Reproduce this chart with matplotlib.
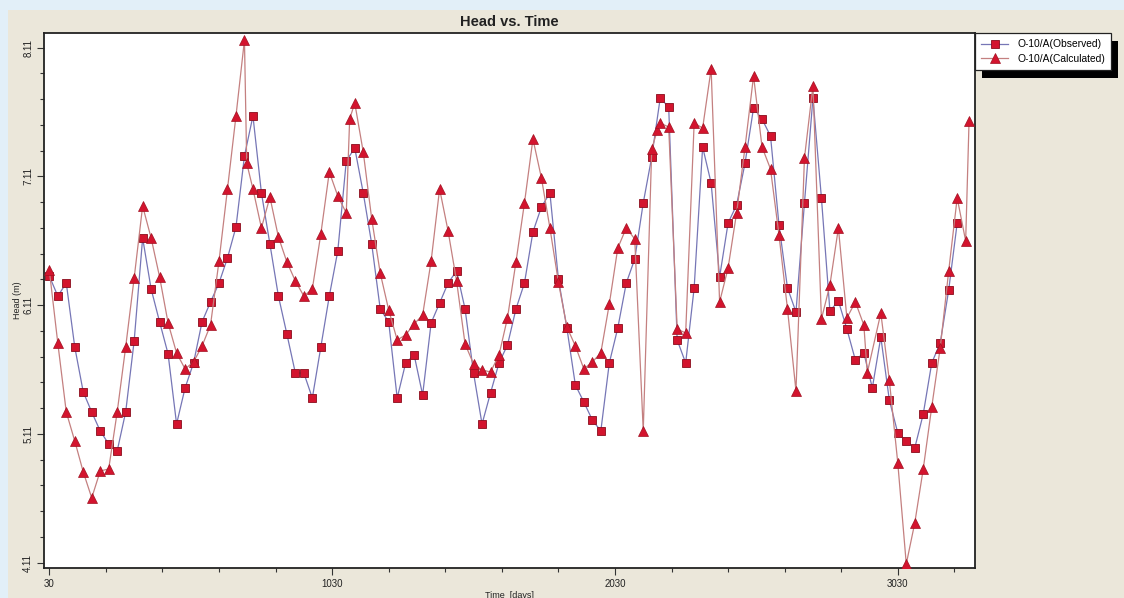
import matplotlib
matplotlib.use('Agg')
import matplotlib.pyplot as plt
from matplotlib.patches import Rectangle
from matplotlib.ticker import FixedLocator, FixedFormatter
import numpy as np

plt.rcParams['font.family'] = ['Liberation Sans', 'DejaVu Sans']

# ---------------- data ----------------
obs_days = [30, 60, 90, 120, 150, 180, 210, 240, 270, 300,
            330, 360, 390, 420, 450, 480, 510, 540, 570, 600,
            630, 660, 690, 720, 750, 780, 810, 840, 870, 900,
            930, 960, 990, 1020, 1050, 1080, 1110, 1140, 1170, 1200,
            1230, 1260, 1290, 1320, 1350, 1380, 1410, 1440, 1470, 1500,
            1530, 1560, 1590, 1620, 1650, 1680, 1710, 1740, 1770, 1800,
            1830, 1860, 1890, 1920, 1950, 1980, 2010, 2040, 2070, 2100,
            2130, 2160, 2190, 2220, 2250, 2280, 2310, 2340, 2370, 2400,
            2430, 2460, 2490, 2520, 2550, 2580, 2610, 2640, 2670, 2700,
            2730, 2760, 2790, 2820, 2850, 2880, 2910, 2940, 2970, 3000,
            3030, 3060, 3090, 3120, 3150, 3180, 3210, 3240]
obs_head = [6.337, 6.181, 6.282, 5.785, 5.436, 5.280, 5.133, 5.032, 4.978, 5.280,
            5.832, 6.632, 6.236, 5.980, 5.731, 5.187, 5.467, 5.661, 5.980, 6.135,
            6.282, 6.477, 6.717, 7.269, 7.580, 6.982, 6.585, 6.181, 5.886, 5.583,
            5.583, 5.389, 5.785, 6.181, 6.531, 7.230, 7.331, 6.982, 6.585, 6.081,
            5.980, 5.389, 5.661, 5.723, 5.413, 5.972, 6.127, 6.282, 6.376, 6.081,
            5.583, 5.187, 5.428, 5.661, 5.801, 6.081, 6.282, 6.679, 6.873, 6.982,
            6.314, 5.933, 5.490, 5.358, 5.218, 5.133, 5.661, 5.933, 6.282, 6.469,
            6.904, 7.261, 7.719, 7.649, 5.840, 5.661, 6.244, 7.339, 7.059, 6.329,
            6.748, 6.888, 7.214, 7.642, 7.556, 7.424, 6.733, 6.244, 6.057, 6.904,
            7.719, 6.943, 6.065, 6.143, 5.925, 5.684, 5.739, 5.467, 5.863, 5.374,
            5.117, 5.055, 5.001, 5.265, 5.661, 5.816, 6.228, 6.748]

calc_days = [30, 60, 90, 120, 150, 180, 210, 240, 270, 300,
             330, 360, 390, 420, 450, 480, 510, 540, 570, 600,
             630, 660, 690, 720, 728, 750, 780, 810, 840, 870,
             900, 930, 960, 990, 1020, 1050, 1080, 1092, 1110, 1140,
             1170, 1200, 1230, 1260, 1290, 1320, 1350, 1380, 1410, 1440,
             1470, 1500, 1530, 1560, 1590, 1620, 1650, 1680, 1710, 1740,
             1770, 1800, 1830, 1860, 1890, 1920, 1950, 1980, 2010, 2040,
             2070, 2100, 2130, 2160, 2180, 2190, 2220, 2250, 2280, 2310,
             2340, 2370, 2400, 2430, 2460, 2490, 2520, 2550, 2580, 2610,
             2640, 2670, 2700, 2730, 2760, 2790, 2820, 2850, 2880, 2910,
             2922, 2970, 3000, 3030, 3060, 3090, 3120, 3150, 3180, 3210,
             3240, 3270, 3282]
calc_head = [6.383, 5.816, 5.280, 5.055, 4.815, 4.613, 4.822, 4.838, 5.280, 5.785,
             6.321, 6.880, 6.632, 6.329, 5.972, 5.739, 5.615, 5.669, 5.793, 5.956,
             6.453, 7.013, 7.580, 8.170, 7.214, 7.013, 6.710, 6.950, 6.640, 6.446,
             6.298, 6.181, 6.236, 6.663, 7.145, 6.958, 6.826, 7.556, 7.681, 7.300,
             6.780, 6.360, 6.073, 5.840, 5.879, 5.964, 6.034, 6.453, 7.013, 6.686,
             6.298, 5.809, 5.653, 5.607, 5.591, 5.723, 6.011, 6.446, 6.904, 7.401,
             7.098, 6.710, 6.290, 5.941, 5.793, 5.615, 5.669, 5.739, 6.119, 6.554,
             6.710, 6.624, 5.133, 7.323, 7.471, 7.525, 7.494, 5.925, 5.894, 7.525,
             7.486, 7.945, 6.135, 6.399, 6.826, 7.339, 7.890, 7.339, 7.168, 6.655,
             6.081, 5.444, 7.253, 7.813, 6.003, 6.267, 6.710, 6.011, 6.135, 5.956,
             5.583, 6.049, 5.529, 4.884, 4.100, 4.418, 4.838, 5.319, 5.778, 6.376,
             6.943, 6.609, 7.541]

x_major = [30, 1030, 2030, 3030]
x_minor = [230, 430, 630, 830, 1230, 1430, 1630, 1830, 2230, 2430, 2630, 2830, 3230]
y_major = [4.11, 5.11, 6.11, 7.11, 8.11]
y_labels = ['4.11', '5.11', '6.11', '7.11', '8.11']
y_minor = [4.31, 4.51, 4.71, 4.91, 5.31, 5.51, 5.71, 5.91, 6.31, 6.51, 6.71, 6.91,
           7.31, 7.51, 7.71, 7.91]

# ---------------- figure ----------------
W, H = 1124, 598
fig = plt.figure(figsize=(W / 100, H / 100), dpi=100)
fig.patch.set_facecolor('#e2eff8')
fig.patches.append(Rectangle((8 / W, 0), 1 - 8 / W, 1 - 10 / H, transform=fig.transFigure,
                             facecolor='#ebe7da', edgecolor='none', zorder=-10))

ax = fig.add_axes([44.3 / W, 1 - 567.7 / H, (975 - 44.3) / W, (567.7 - 33.3) / H])
ax.set_facecolor('white')

l_obs, = ax.plot(obs_days, obs_head, color='#7676b6', lw=0.9, marker='s', ms=6.4,
                 mfc='#d3142e', mec='#8a0c1c', mew=0.6, label='O-10/A(Observed)', zorder=3)
l_calc, = ax.plot(calc_days, calc_head, color='#c48080', lw=0.9, marker='^', ms=7.0,
                  mfc='#d3142e', mec='#a01020', mew=0.5, label='O-10/A(Calculated)', zorder=4)

ax.set_xlim(12.3, 3303)
ax.set_ylim(4.071, 8.222)

ax.xaxis.set_major_locator(FixedLocator(x_major))
ax.xaxis.set_minor_locator(FixedLocator(x_minor))
ax.yaxis.set_major_locator(FixedLocator(y_major))
ax.yaxis.set_major_formatter(FixedFormatter(y_labels))
ax.yaxis.set_minor_locator(FixedLocator(y_minor))

ax.tick_params(axis='both', which='major', direction='out', length=5, width=0.8,
               color='#333333', labelsize=7, labelcolor='#222222', pad=3)
ax.tick_params(axis='both', which='minor', direction='out', length=3, width=0.8, color='#333333')
for lab in ax.get_yticklabels():
    lab.set_rotation(90)
    lab.set_va('center')

for sp in ax.spines.values():
    sp.set_linewidth(1.3)
    sp.set_color('#222222')

fig.text(509.5 / W, 1 - 22.5 / H, 'Head vs. Time', ha='center', va='center',
         fontsize=10.5, fontweight='bold', color='#222222')
fig.text(18 / W, 1 - 300 / H, 'Head (m)', ha='center', va='center', rotation=90,
         fontsize=6.5, color='#222222')
fig.text(509.5 / W, 1 - 591 / H, 'Time  [days]', ha='center', va='top',
         fontsize=6.5, color='#222222')

leg = fig.legend(handles=[l_obs, l_calc], loc='upper left',
                 bbox_to_anchor=(975 / W, 1 - 33 / H), bbox_transform=fig.transFigure,
                 borderaxespad=0, fontsize=7.4, frameon=True, fancybox=False,
                 framealpha=1, edgecolor='#222222', handlelength=2.6,
                 handletextpad=0.9, borderpad=0.6, labelspacing=0.45)
leg.get_frame().set_linewidth(0.9)
leg.set_zorder(6)

fig.canvas.draw()
bb = leg.get_window_extent()
fig.patches.append(Rectangle(((bb.x0 + 7) / W, (bb.y0 - 8) / H), bb.width / W, bb.height / H,
                             transform=fig.transFigure, facecolor='black',
                             edgecolor='none', zorder=5))

fig.savefig('out.png', dpi=100, facecolor=fig.get_facecolor())
